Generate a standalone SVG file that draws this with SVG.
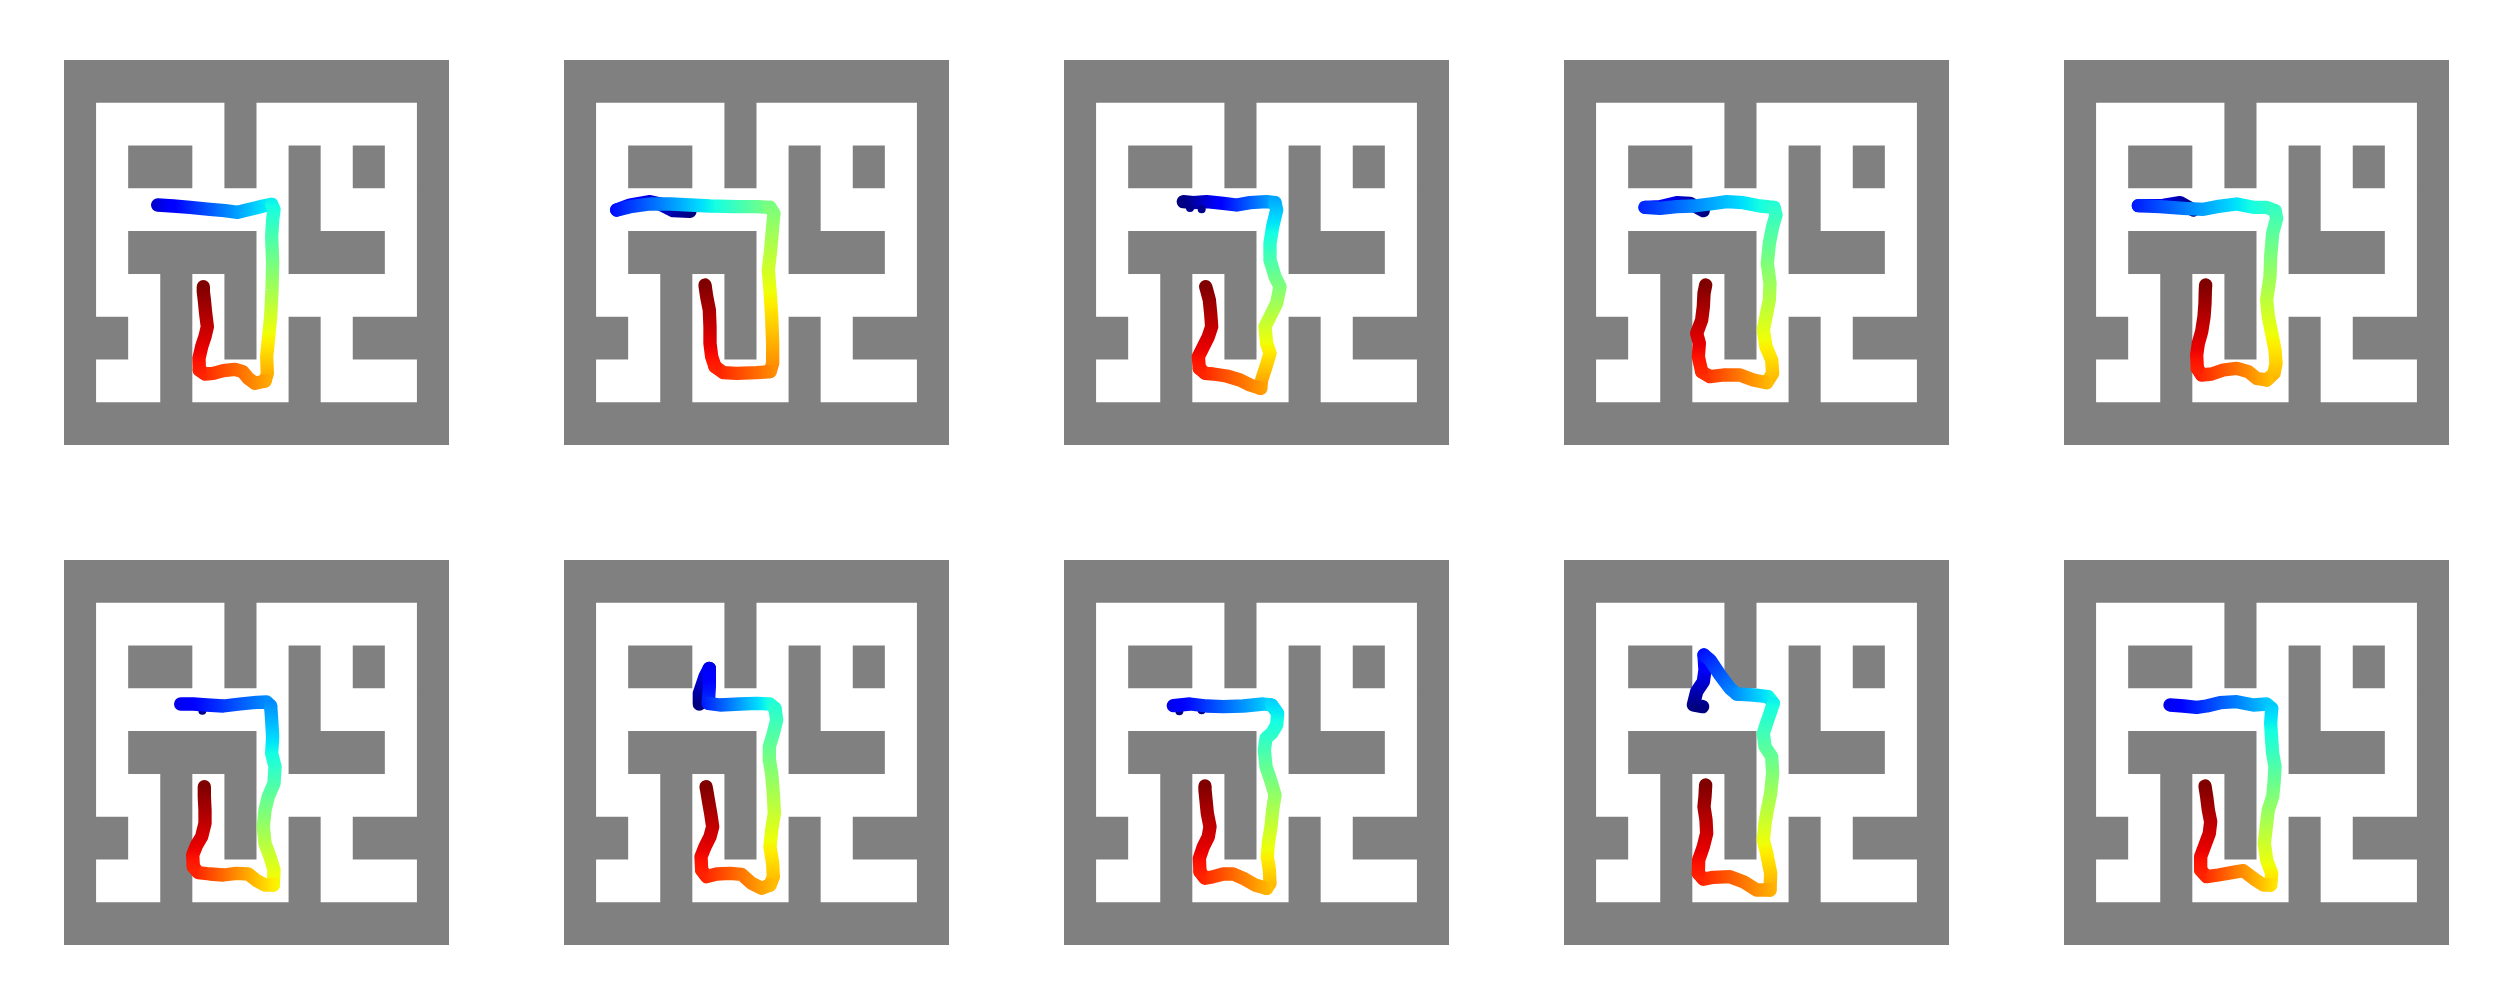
<svg xmlns="http://www.w3.org/2000/svg" xmlns:xlink="http://www.w3.org/1999/xlink" width="2500" height="1000" viewBox="0 0 2500 1000">
<style>
.tr{fill:none;stroke-width:40;stroke-linecap:round;stroke-linejoin:round}
.nv{fill:#00008a}
</style>
<defs>
<linearGradient id="jet">
<stop offset="0" stop-color="#000080"/><stop offset="0.11" stop-color="#0000ff"/><stop offset="0.125" stop-color="#0000ff"/><stop offset="0.34" stop-color="#00dbff"/><stop offset="0.35" stop-color="#00e6f7"/><stop offset="0.375" stop-color="#15ffe2"/><stop offset="0.64" stop-color="#efff08"/><stop offset="0.65" stop-color="#f7f500"/><stop offset="0.66" stop-color="#ffec00"/><stop offset="0.89" stop-color="#ff1300"/><stop offset="0.91" stop-color="#e80000"/><stop offset="1" stop-color="#800000"/>
</linearGradient>
<g id="maze">
<rect width="385" height="385" fill="#808080"/>
<path transform="scale(32.083333,42.777778)" fill="#ffffff" d="M1,1h4v1h-4z M6,1h5v1h-5z M1,2h1v1h-1z M4,2h1v1h-1z M6,2h1v1h-1z M8,2h1v1h-1z M10,2h1v1h-1z M1,3h6v1h-6z M8,3h3v1h-3z M1,4h1v1h-1z M6,4h1v1h-1z M10,4h1v1h-1z M1,5h2v1h-2z M4,5h1v1h-1z M6,5h5v1h-5z M2,6h1v1h-1z M4,6h1v1h-1z M6,6h1v1h-1z M8,6h1v1h-1z M1,7h2v1h-2z M4,7h3v1h-3z M8,7h3v1h-3z"/>
</g>
<linearGradient id="m1a" xlink:href="#jet" gradientUnits="userSpaceOnUse" x1="228.7" y1="0" x2="1408" y2="0"/>
<linearGradient id="m1b" xlink:href="#jet" gradientUnits="userSpaceOnUse" x1="0" y1="-67" x2="0" y2="1365.4"/>
<linearGradient id="m1c" xlink:href="#jet" gradientUnits="userSpaceOnUse" x1="1686.3" y1="0" x2="279.2" y2="0"/>
<linearGradient id="m1d" xlink:href="#jet" gradientUnits="userSpaceOnUse" x1="0" y1="2793.3" x2="0" y2="710"/>
<linearGradient id="m2a1" xlink:href="#jet" gradientUnits="userSpaceOnUse" x1="420" y1="0" x2="-1046.7" y2="0"/>
<linearGradient id="m2a2" xlink:href="#jet" gradientUnits="userSpaceOnUse" x1="2.9" y1="0" x2="1317.2" y2="0"/>
<linearGradient id="m2b" xlink:href="#jet" gradientUnits="userSpaceOnUse" x1="0" y1="-441" x2="0" y2="1384.9"/>
<linearGradient id="m2c" xlink:href="#jet" gradientUnits="userSpaceOnUse" x1="1815" y1="0" x2="315" y2="0"/>
<linearGradient id="m2d" xlink:href="#jet" gradientUnits="userSpaceOnUse" x1="0" y1="2746.7" x2="0" y2="705"/>
<linearGradient id="m3a" xlink:href="#jet" gradientUnits="userSpaceOnUse" x1="400" y1="0" x2="1316.7" y2="0"/>
<linearGradient id="m3b" xlink:href="#jet" gradientUnits="userSpaceOnUse" x1="0" y1="86.7" x2="0" y2="1324.5"/>
<linearGradient id="m3c" xlink:href="#jet" gradientUnits="userSpaceOnUse" x1="1693.5" y1="0" x2="278.1" y2="0"/>
<linearGradient id="m3d" xlink:href="#jet" gradientUnits="userSpaceOnUse" x1="0" y1="2751.7" x2="0" y2="710"/>
<linearGradient id="m4a1" xlink:href="#jet" gradientUnits="userSpaceOnUse" x1="460" y1="0" x2="-569.4" y2="0"/>
<linearGradient id="m4a2" xlink:href="#jet" gradientUnits="userSpaceOnUse" x1="-1" y1="0" x2="1681.6" y2="0"/>
<linearGradient id="m4b" xlink:href="#jet" gradientUnits="userSpaceOnUse" x1="0" y1="-185.5" x2="0" y2="1458.25"/>
<linearGradient id="m4c" xlink:href="#jet" gradientUnits="userSpaceOnUse" x1="1586" y1="0" x2="286" y2="0"/>
<linearGradient id="m4d" xlink:href="#jet" gradientUnits="userSpaceOnUse" x1="0" y1="2705" x2="0" y2="705"/>
<linearGradient id="m5a1" xlink:href="#jet" gradientUnits="userSpaceOnUse" x1="430" y1="0" x2="-601.25" y2="0"/>
<linearGradient id="m5a2" xlink:href="#jet" gradientUnits="userSpaceOnUse" x1="12.7" y1="0" x2="1589.6" y2="0"/>
<linearGradient id="m5b" xlink:href="#jet" gradientUnits="userSpaceOnUse" x1="0" y1="-229.2" x2="0" y2="1464.1"/>
<linearGradient id="m5c" xlink:href="#jet" gradientUnits="userSpaceOnUse" x1="1586" y1="0" x2="286" y2="0"/>
<linearGradient id="m5d" xlink:href="#jet" gradientUnits="userSpaceOnUse" x1="0" y1="2788.3" x2="0" y2="705"/>
<linearGradient id="m6a" xlink:href="#jet" gradientUnits="userSpaceOnUse" x1="233.2" y1="0" x2="1821.4" y2="0"/>
<linearGradient id="m6b" xlink:href="#jet" gradientUnits="userSpaceOnUse" x1="0" y1="96.2" x2="0" y2="1473.1"/>
<linearGradient id="m6c" xlink:href="#jet" gradientUnits="userSpaceOnUse" x1="1390" y1="0" x2="299.1" y2="0"/>
<linearGradient id="m6d" xlink:href="#jet" gradientUnits="userSpaceOnUse" x1="0" y1="2710" x2="0" y2="710"/>
<linearGradient id="m7a0" xlink:href="#jet" gradientUnits="userSpaceOnUse" x1="0" y1="462" x2="0" y2="-608"/>
<linearGradient id="m7a1" xlink:href="#jet" gradientUnits="userSpaceOnUse" x1="0" y1="205" x2="0" y2="1705"/>
<linearGradient id="m7a2" xlink:href="#jet" gradientUnits="userSpaceOnUse" x1="327.2" y1="0" x2="1196.8" y2="0"/>
<linearGradient id="m7b" xlink:href="#jet" gradientUnits="userSpaceOnUse" x1="0" y1="-187.5" x2="0" y2="1468.75"/>
<linearGradient id="m7c" xlink:href="#jet" gradientUnits="userSpaceOnUse" x1="1582.5" y1="0" x2="301.25" y2="0"/>
<linearGradient id="m7d" xlink:href="#jet" gradientUnits="userSpaceOnUse" x1="0" y1="2793.3" x2="0" y2="710"/>
<linearGradient id="m8a" xlink:href="#jet" gradientUnits="userSpaceOnUse" x1="247.1" y1="0" x2="1476.3" y2="0"/>
<linearGradient id="m8b" xlink:href="#jet" gradientUnits="userSpaceOnUse" x1="0" y1="-27.1" x2="0" y2="1420.3"/>
<linearGradient id="m8c" xlink:href="#jet" gradientUnits="userSpaceOnUse" x1="1550" y1="0" x2="300" y2="0"/>
<linearGradient id="m8d" xlink:href="#jet" gradientUnits="userSpaceOnUse" x1="0" y1="2849.7" x2="0" y2="708"/>
<linearGradient id="m9a0" xlink:href="#jet" gradientUnits="userSpaceOnUse" x1="0" y1="470" x2="0" y2="-563.3"/>
<linearGradient id="m9a1" xlink:href="#jet" gradientUnits="userSpaceOnUse" x1="339.5" y1="168.75" x2="1156.2" y2="1143.75"/>
<linearGradient id="m9a2" xlink:href="#jet" gradientUnits="userSpaceOnUse" x1="263" y1="0" x2="1363" y2="0"/>
<linearGradient id="m9b" xlink:href="#jet" gradientUnits="userSpaceOnUse" x1="0" y1="-115.6" x2="0" y2="1440"/>
<linearGradient id="m9c" xlink:href="#jet" gradientUnits="userSpaceOnUse" x1="1706.3" y1="0" x2="273" y2="0"/>
<linearGradient id="m9d" xlink:href="#jet" gradientUnits="userSpaceOnUse" x1="0" y1="2913.3" x2="0" y2="705"/>
<linearGradient id="m10a" xlink:href="#jet" gradientUnits="userSpaceOnUse" x1="227.4" y1="0" x2="1553.5" y2="0"/>
<linearGradient id="m10b" xlink:href="#jet" gradientUnits="userSpaceOnUse" x1="0" y1="-24.7" x2="0" y2="1489.6"/>
<linearGradient id="m10c" xlink:href="#jet" gradientUnits="userSpaceOnUse" x1="1376" y1="0" x2="326" y2="0"/>
<linearGradient id="m10d" xlink:href="#jet" gradientUnits="userSpaceOnUse" x1="0" y1="2808" x2="0" y2="708"/>
</defs>
<rect width="2500" height="1000" fill="#ffffff"/>

<g id="panel-1" transform="translate(64,60)">
<use xlink:href="#maze"/>
<g transform="translate(-14,-10) scale(0.3333333)" stroke-width="40">
<path class="tr" stroke="url(#m1a)" d="M323,465 L370,468 420,472 480,478 525,482 563,487 600,478 640,468 665,463"/>
<path class="tr" stroke="url(#m1b)" d="M665,463 L672,478 668,510 665,560 668,640 666,720 662,800 655,870 650,920 652,970 645,993"/>
<path class="tr" stroke="url(#m1c)" d="M645,993 L615,1000 595,985 578,965 555,958 520,962 490,970 465,972 448,960"/>
<path class="tr" stroke="url(#m1d)" d="M448,960 L447,925 455,890 465,860 472,830 467,790 463,750 460,725 460,710"/>
</g>
</g>

<g id="panel-2" transform="translate(564,60)">
<use xlink:href="#maze"/>
<g transform="translate(-14,-10) scale(0.3333333)" stroke-width="40">
<path class="tr" stroke="url(#m2a1)" d="M420,484 L370,482 330,462 300,455 240,465 200,480"/>
<path class="tr" stroke="url(#m2a2)" d="M200,480 L240,470 300,462 360,462 420,465 480,468 560,470 620,470 660,472"/>
<path class="tr" stroke="url(#m2b)" d="M660,472 L672,490 668,530 662,600 655,660 660,720 665,800 668,880 668,940 660,965"/>
<path class="tr" stroke="url(#m2c)" d="M660,965 L620,968 560,970 520,968 495,950"/>
<path class="tr" stroke="url(#m2d)" d="M495,950 L485,920 480,880 480,830 478,780 470,740 465,705"/>
</g>
</g>

<g id="panel-3" transform="translate(1064,60)">
<use xlink:href="#maze"/>
<g transform="translate(-14,-10) scale(0.3333333)" stroke-width="40">
<path class="tr" stroke="url(#m3a)" d="M400,455 L430,458 470,455 520,460 560,465 600,458 650,455 675,458"/>
<path class="tr" stroke="url(#m3b)" d="M675,458 L680,480 668,530 660,580 660,630 675,680 690,710 680,760 660,800 645,830 650,880 660,910 648,950 635,990 632,1015"/>
<path class="tr" stroke="url(#m3c)" d="M632,1015 L600,1005 570,990 530,978 490,972 465,970 448,955"/>
<path class="tr" stroke="url(#m3d)" d="M448,955 L445,920 460,890 475,860 485,830 482,790 478,750 470,720 467,710"/>
<circle class="nv" cx="420" cy="474" r="12"/>
<circle class="nv" cx="455" cy="478" r="12"/>
</g>
</g>

<g id="panel-4" transform="translate(1564,60)">
<use xlink:href="#maze"/>
<g transform="translate(-14,-10) scale(0.3333333)" stroke-width="40">
<path class="tr" stroke="url(#m4a1)" d="M460,482 L420,460 380,458 330,470 285,472"/>
<path class="tr" stroke="url(#m4a2)" d="M285,472 L330,475 380,470 430,468 480,462 530,455 580,458 630,468 672,472"/>
<path class="tr" stroke="url(#m4b)" d="M672,472 L678,495 668,530 658,580 652,640 660,700 658,750 648,800 640,840 648,890 665,930 668,970 650,998"/>
<path class="tr" stroke="url(#m4c)" d="M650,998 L610,990 570,975 520,975 480,980 455,965"/>
<path class="tr" stroke="url(#m4d)" d="M455,965 L445,920 448,880 440,850 455,810 460,770 462,730 467,705"/>
</g>
</g>

<g id="panel-5" transform="translate(2064,60)">
<use xlink:href="#maze"/>
<g transform="translate(-14,-10) scale(0.3333333)" stroke-width="40">
<path class="tr" stroke="url(#m5a1)" d="M430,480 L390,458 340,466 265,467"/>
<path class="tr" stroke="url(#m5a2)" d="M265,467 L330,470 400,475 460,478 500,470 560,462 610,472 650,472 675,482"/>
<path class="tr" stroke="url(#m5b)" d="M675,482 L680,505 668,550 662,620 660,680 650,750 655,800 665,850 675,900 678,940 672,970 650,990"/>
<path class="tr" stroke="url(#m5c)" d="M650,990 L620,985 595,965 560,955 520,960 485,972 455,975 442,955"/>
<path class="tr" stroke="url(#m5d)" d="M442,955 L440,915 445,880 455,845 462,800 465,760 466,720 467,705"/>
</g>
</g>

<g id="panel-6" transform="translate(64,560)">
<use xlink:href="#maze"/>
<g transform="translate(-14,-10) scale(0.3333333)" stroke-width="40">
<circle class="nv" cx="457" cy="482" r="12"/>
<path class="tr" stroke="url(#m6a)" d="M392,462 L430,462 470,465 520,468 570,462 620,457 650,456 662,468"/>
<path class="tr" stroke="url(#m6b)" d="M662,468 L665,510 668,560 665,610 675,650 672,700 655,740 645,780 640,830 645,880 660,920 672,960 670,1005"/>
<path class="tr" stroke="url(#m6c)" d="M670,1005 L645,1005 620,992 595,972 560,970 520,975 480,972 445,968 430,950"/>
<path class="tr" stroke="url(#m6d)" d="M430,950 L428,915 440,885 455,860 465,820 465,780 463,740 463,710"/>
</g>
</g>

<g id="panel-7" transform="translate(564,560)">
<use xlink:href="#maze"/>
<g transform="translate(-14,-10) scale(0.3333333)" stroke-width="40">
<path class="tr" stroke="url(#m7a0)" d="M448,462 L448,430 465,380 478,355"/>
<path class="tr" stroke="url(#m7a1)" d="M478,355 L478,410 475,460"/>
<path class="tr" stroke="url(#m7a2)" d="M475,460 L510,465 570,462 620,460 660,462 675,475"/>
<path class="tr" stroke="url(#m7b)" d="M675,475 L680,510 670,550 658,590 658,630 665,670 670,730 673,790 665,840 660,890 668,940 670,980 660,1005"/>
<path class="tr" stroke="url(#m7c)" d="M660,1005 L635,1015 605,1000 575,973 540,970 500,972 470,980 455,960"/>
<path class="tr" stroke="url(#m7d)" d="M455,960 L453,920 465,890 480,860 488,830 482,790 475,750 470,720 468,710"/>
</g>
</g>

<g id="panel-8" transform="translate(1064,560)">
<use xlink:href="#maze"/>
<g transform="translate(-14,-10) scale(0.3333333)" stroke-width="40">
<circle class="nv" cx="388" cy="484" r="12"/>
<circle class="nv" cx="455" cy="481" r="12"/>
<path class="tr" stroke="url(#m8a)" d="M370,467 L420,462 470,468 520,470 580,468 640,462 665,465"/>
<path class="tr" stroke="url(#m8b)" d="M665,465 L683,490 680,525 665,550 648,565 643,600 648,650 665,700 675,735 668,780 663,830 655,880 652,920 658,960 660,1000 650,1015"/>
<path class="tr" stroke="url(#m8c)" d="M650,1015 L615,1005 580,985 550,972 520,972 490,980 465,985 450,965"/>
<path class="tr" stroke="url(#m8d)" d="M450,965 L448,925 460,890 475,860 480,830 472,790 468,750 465,720 465,708"/>
</g>
</g>

<g id="panel-9" transform="translate(1564,560)">
<use xlink:href="#maze"/>
<g transform="translate(-14,-10) scale(0.3333333)" stroke-width="40">
<path class="tr" stroke="url(#m9a0)" d="M458,470 L430,465 440,425 460,395 465,360 462,315"/>
<path class="tr" stroke="url(#m9a1)" d="M462,315 L480,330 510,375 540,415 560,432"/>
<path class="tr" stroke="url(#m9a2)" d="M560,432 L610,435 655,440 670,460"/>
<path class="tr" stroke="url(#m9b)" d="M670,460 L660,490 648,525 640,550 645,590 665,620 668,670 662,730 652,780 645,820 640,870 650,910 662,970 660,1020"/>
<path class="tr" stroke="url(#m9c)" d="M660,1020 L620,1020 580,995 540,980 490,982 460,988 445,970"/>
<path class="tr" stroke="url(#m9d)" d="M445,970 L446,930 460,890 470,850 468,810 462,770 465,740 467,705"/>
</g>
</g>

<g id="panel-10" transform="translate(2064,560)">
<use xlink:href="#maze"/>
<g transform="translate(-14,-10) scale(0.3333333)" stroke-width="40">
<circle class="nv" cx="440" cy="479" r="12"/>
<path class="tr" stroke="url(#m10a)" d="M360,465 L400,468 440,472 470,468 510,458 560,455 610,465 650,462 665,475"/>
<path class="tr" stroke="url(#m10b)" d="M665,475 L662,520 665,570 668,610 675,650 672,700 668,740 655,780 650,820 643,880 650,930 665,970 662,1005"/>
<path class="tr" stroke="url(#m10c)" d="M662,1005 L640,1005 610,985 580,962 545,968 505,975 470,980 452,960"/>
<path class="tr" stroke="url(#m10d)" d="M452,960 L452,920 465,885 478,850 482,815 475,780 470,740 465,708"/>
</g>
</g>
</svg>
